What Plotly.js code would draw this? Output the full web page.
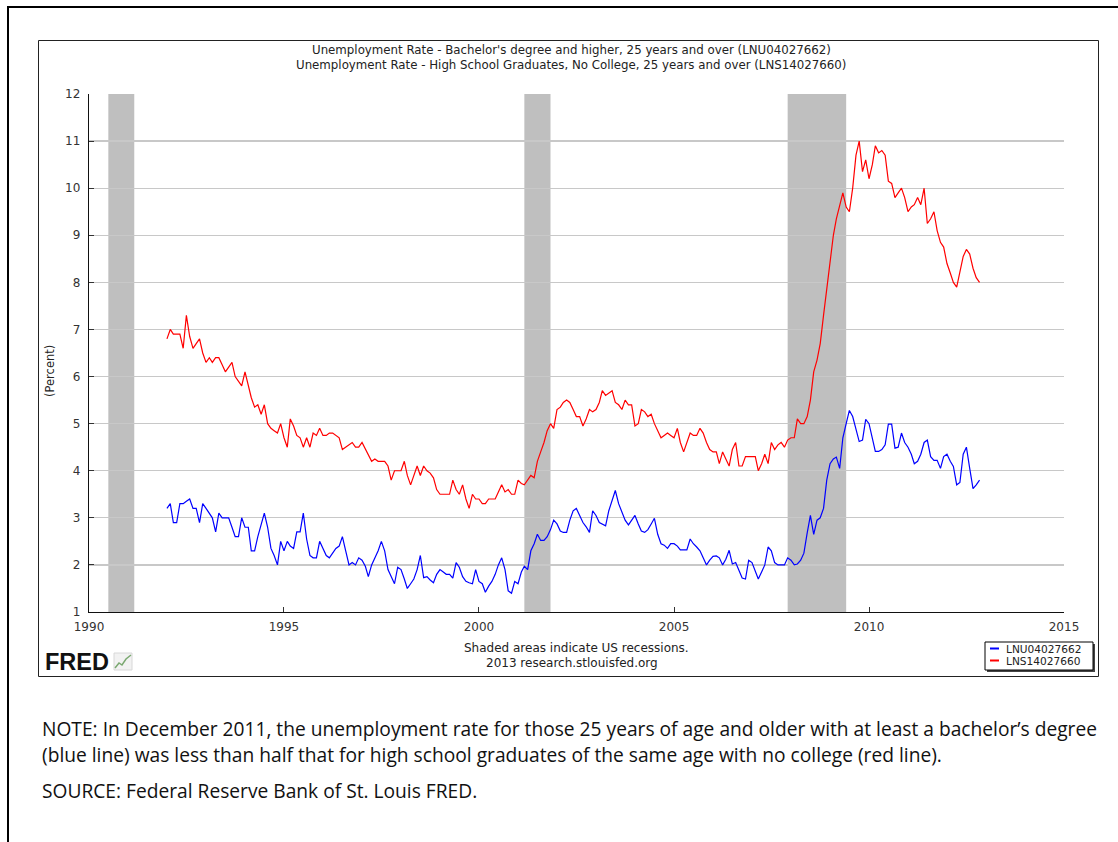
<!DOCTYPE html>
<html><head><meta charset="utf-8">
<script src="https://cdn.plot.ly/plotly-3.0.1.min.js"></script>
<style>html,body{margin:0;padding:0;background:#fff;}#chart{width:1118px;height:842px;}</style>
</head><body><div id="chart"></div>
<script>
// Monthly data, starting January 1992
const startYear = 1992;
const bachelors = [
3.2,3.3,2.9,2.9,3.3,3.3,3.35,3.4,3.2,3.2,2.9,3.3,
3.2,3.1,3.0,2.7,3.1,3.0,3.0,3.0,2.8,2.6,2.6,3.0,
2.8,2.8,2.3,2.3,2.6,2.85,3.1,2.8,2.35,2.2,2.0,2.5,
2.3,2.5,2.4,2.35,2.7,2.7,3.1,2.55,2.2,2.15,2.15,2.5,
2.35,2.2,2.15,2.25,2.35,2.4,2.6,2.3,2.0,2.05,2.0,2.15,
2.1,1.97,1.75,2.0,2.15,2.3,2.5,2.3,1.9,1.75,1.6,1.95,
1.9,1.7,1.5,1.6,1.7,1.9,2.2,1.73,1.75,1.68,1.62,1.8,
1.9,1.85,1.8,1.8,1.72,2.05,1.95,1.75,1.65,1.62,1.6,1.9,
1.65,1.6,1.42,1.55,1.65,1.8,2.0,2.15,1.9,1.45,1.4,1.65,
1.6,1.85,1.97,1.9,2.3,2.45,2.65,2.52,2.52,2.6,2.75,2.95,
2.87,2.72,2.69,2.69,2.95,3.15,3.2,3.05,2.9,2.81,2.69,3.15,
3.05,2.9,2.87,2.83,3.15,3.35,3.58,3.3,3.1,2.95,2.85,2.95,
3.05,2.87,2.72,2.69,2.75,2.87,2.99,2.65,2.45,2.42,2.35,2.45,
2.45,2.4,2.32,2.32,2.32,2.55,2.45,2.38,2.3,2.15,2.0,2.1,
2.18,2.19,2.15,2.0,2.12,2.31,2.02,2.05,1.9,1.72,1.7,2.1,
2.05,1.85,1.7,1.85,2.0,2.38,2.3,2.05,2.0,2.0,2.0,2.15,
2.1,2.0,2.02,2.1,2.25,2.68,3.05,2.65,2.95,3.0,3.2,3.8,
4.15,4.25,4.29,4.05,4.7,5.0,5.28,5.15,4.9,4.62,4.65,5.09,
5.0,4.7,4.41,4.41,4.45,4.55,4.99,4.99,4.48,4.5,4.8,4.6,
4.5,4.35,4.15,4.2,4.35,4.6,4.65,4.3,4.22,4.22,4.05,4.3,
4.35,4.2,4.09,3.7,3.75,4.35,4.5,4.05,3.62,3.7,3.8
];
const highSchool = [
6.8,7.0,6.9,6.9,6.9,6.6,7.3,6.85,6.6,6.7,6.8,6.5,
6.3,6.4,6.3,6.4,6.4,6.25,6.1,6.2,6.3,6.0,5.9,5.8,
6.1,5.8,5.55,5.35,5.4,5.2,5.4,5.0,4.9,4.85,4.8,5.0,
4.7,4.5,5.1,4.95,4.75,4.7,4.5,4.7,4.5,4.8,4.75,4.9,
4.75,4.75,4.8,4.8,4.75,4.7,4.45,4.5,4.55,4.6,4.5,4.5,
4.6,4.45,4.35,4.2,4.25,4.2,4.2,4.2,4.1,3.8,4.0,4.0,
4.0,4.2,3.9,3.7,3.9,4.1,3.9,4.1,4.0,3.95,3.85,3.6,
3.5,3.5,3.5,3.5,3.8,3.6,3.5,3.7,3.4,3.2,3.5,3.4,
3.4,3.3,3.3,3.4,3.4,3.4,3.55,3.7,3.55,3.6,3.5,3.5,
3.8,3.73,3.7,3.8,3.9,3.85,4.2,4.4,4.6,4.85,5.0,4.9,
5.3,5.35,5.45,5.5,5.45,5.3,5.15,5.15,4.95,5.1,5.3,5.25,
5.3,5.45,5.7,5.6,5.65,5.7,5.45,5.4,5.3,5.5,5.4,5.4,
4.95,5.0,5.3,5.25,5.15,5.2,5.0,4.85,4.7,4.75,4.8,4.75,
4.7,4.9,4.6,4.4,4.6,4.8,4.75,4.75,4.9,4.8,4.6,4.45,
4.4,4.4,4.15,4.4,4.25,4.1,4.45,4.6,4.1,4.1,4.3,4.3,
4.3,4.3,4.0,4.15,4.35,4.15,4.6,4.45,4.55,4.6,4.5,4.65,
4.7,4.7,5.1,5.0,5.0,5.15,5.5,6.1,6.35,6.7,7.3,7.9,
8.5,9.0,9.35,9.65,9.9,9.6,9.5,10.0,10.7,11.0,10.35,10.6,
10.2,10.5,10.9,10.75,10.8,10.7,10.15,10.1,9.8,9.9,10.0,9.8,
9.5,9.6,9.65,9.8,9.65,10.0,9.25,9.35,9.5,9.1,8.85,8.75,
8.4,8.2,8.0,7.9,8.25,8.55,8.7,8.6,8.3,8.1,8.0
];
const seriesNames = ['LNU04027662','LNS14027660'];
const seriesColors = ['#0000ff','#ff0000'];
const recessionStarts = ['1990-07-01','2001-03-01','2007-12-01'];
const recessionEnds   = ['1991-03-01','2001-11-01','2009-06-01'];
const xTickYears = [1990,1995,2000,2005,2010,2015];
const yTicks = [1,2,3,4,5,6,7,8,9,10,11,12];
const titleLines = [
  "Unemployment Rate - Bachelor's degree and higher, 25 years and over (LNU04027662)",
  "Unemployment Rate - High School Graduates, No College, 25 years and over (LNS14027660)"
];
const yTitle = '(Percent)';
const footLines = ['Shaded areas indicate US recessions.','2013 research.stlouisfed.org'];
const noteLines = [
  'NOTE: In December 2011, the unemployment rate for those 25 years of age and older with at least a bachelor\u2019s degree',
  '(blue line) was less than half that for high school graduates of the same age with no college (red line).'
];
const sourceLine = 'SOURCE: Federal Reserve Bank of St. Louis FRED.';

function monthDates(n){
  const out=[];
  for(let i=0;i<n;i++){
    const y=startYear+Math.floor(i/12), m=(i%12)+1;
    out.push(y+'-'+(m<10?'0':'')+m+'-01');
  }
  return out;
}

// pixel -> paper helpers (plot area: x 89..1064, y 94..612)
const L=89,R=1064,T=94,B=612;
const PX=p=>(p-L)/(R-L);
const PY=p=>(B-p)/(B-T);

const traces=[
  {x:monthDates(bachelors.length), y:bachelors, name:seriesNames[0], type:'scatter', mode:'lines',
   line:{color:seriesColors[0], width:1.2}, hoverinfo:'skip'},
  {x:monthDates(highSchool.length), y:highSchool, name:seriesNames[1], type:'scatter', mode:'lines',
   line:{color:seriesColors[1], width:1.2}, hoverinfo:'skip'}
];

const shapes=[];
for(let i=0;i<recessionStarts.length;i++){
  shapes.push({type:'rect', xref:'x', yref:'paper', x0:recessionStarts[i], x1:recessionEnds[i], y0:0, y1:1,
    fillcolor:'#bfbfbf', line:{width:0}, layer:'between'});
}
// chart frame
shapes.push({type:'rect', xref:'paper', yref:'paper', x0:PX(38.5), x1:PX(1098.5), y0:PY(676.5), y1:PY(40.5),
  line:{color:'#222', width:1}, fillcolor:'rgba(0,0,0,0)', layer:'above'});
// outer page borders
shapes.push({type:'line', xref:'paper', yref:'paper', x0:PX(7), x1:PX(1118), y0:PY(7), y1:PY(7), line:{color:'#000', width:2}});
shapes.push({type:'line', xref:'paper', yref:'paper', x0:PX(8), x1:PX(8), y0:PY(6), y1:PY(842), line:{color:'#000', width:2}});
// legend box (with shadow)
shapes.push({type:'rect', xref:'paper', yref:'paper', x0:PX(987), x1:PX(1095), y0:PY(672), y1:PY(644),
  line:{width:0}, fillcolor:'#444'});
shapes.push({type:'rect', xref:'paper', yref:'paper', x0:PX(985), x1:PX(1093), y0:PY(670), y1:PY(642),
  line:{color:'#000', width:1}, fillcolor:'#fff'});
for(let i=0;i<2;i++){
  const yy=648.5+i*12;
  shapes.push({type:'line', xref:'paper', yref:'paper', x0:PX(990), x1:PX(999), y0:PY(yy), y1:PY(yy),
    line:{color:seriesColors[i], width:2}});
}
// small FRED chart icon
shapes.push({type:'rect', xref:'paper', yref:'paper', x0:PX(114), x1:PX(132), y0:PY(670), y1:PY(653),
  line:{color:'#d8d8d8', width:1}, fillcolor:'#f2f2f2'});
shapes.push({type:'path', xref:'paper', yref:'paper',
  path:'M '+PX(115)+' '+PY(668)+' L '+PX(119)+' '+PY(663)+' L '+PX(122)+' '+PY(665)+' L '+PX(126)+' '+PY(659)+' L '+PX(131)+' '+PY(655),
  line:{color:'#7aa870', width:1.5}});

const annotations=[];
const fam='DejaVu Sans, Verdana, sans-serif';
const tf={family:fam, size:11.8, color:'#222'};
annotations.push({xref:'paper', yref:'paper', x:PX(571), y:PY(50), text:titleLines[0], showarrow:false, font:tf, xanchor:'center', yanchor:'middle'});
annotations.push({xref:'paper', yref:'paper', x:PX(571), y:PY(65), text:titleLines[1], showarrow:false, font:tf, xanchor:'center', yanchor:'middle'});
annotations.push({xref:'paper', yref:'paper', x:PX(50), y:PY(371), text:yTitle, showarrow:false, textangle:-90, font:{family:fam, size:11.5, color:'#222'}, xanchor:'center', yanchor:'middle'});
const ff={family:fam, size:12, color:'#222'};
annotations.push({xref:'paper', yref:'paper', x:PX(576), y:PY(648), text:footLines[0], showarrow:false, font:ff, xanchor:'center', yanchor:'middle'});
annotations.push({xref:'paper', yref:'paper', x:PX(572), y:PY(663), text:footLines[1], showarrow:false, font:ff, xanchor:'center', yanchor:'middle'});
for(let i=0;i<2;i++){
  annotations.push({xref:'paper', yref:'paper', x:PX(1004), y:PY(648.5+i*12), text:seriesNames[i], showarrow:false,
    font:{family:fam, size:10.6, color:'#222'}, xanchor:'left', yanchor:'middle'});
}
annotations.push({xref:'paper', yref:'paper', x:PX(43), y:PY(662), text:'<b>FRED</b>', showarrow:false,
  font:{family:'Liberation Sans, Arial, sans-serif', size:23.5, color:'#111'}, xanchor:'left', yanchor:'middle'});
const nf={family:'Open Sans, Noto Sans, sans-serif', size:19.2, color:'#111'};
annotations.push({xref:'paper', yref:'paper', x:PX(40), y:PY(728), text:noteLines[0], showarrow:false, font:nf, xanchor:'left', yanchor:'middle'});
annotations.push({xref:'paper', yref:'paper', x:PX(40), y:PY(754), text:noteLines[1], showarrow:false, font:nf, xanchor:'left', yanchor:'middle'});
annotations.push({xref:'paper', yref:'paper', x:PX(40), y:PY(791), text:sourceLine, showarrow:false, font:nf, xanchor:'left', yanchor:'middle'});

const layout={
  width:1118, height:842,
  margin:{l:L, r:1118-R, t:T, b:842-B, pad:0},
  paper_bgcolor:'#fff', plot_bgcolor:'#fff',
  showlegend:false,
  xaxis:{type:'date', range:['1990-01-01','2015-01-01'],
    tickvals:xTickYears.map(y=>y+'-01-01'), ticktext:xTickYears.map(String),
    showgrid:false, zeroline:false, showline:true, linecolor:'#111', linewidth:1.3,
    ticks:'inside', ticklen:5, tickcolor:'#333', tickfont:{family:fam, size:12, color:'#333'},
    ticklabelstandoff:3, fixedrange:true},
  yaxis:{range:[1,12], tickvals:yTicks, ticktext:yTicks.map(String),
    showgrid:true, gridcolor:'#c8c8c8', gridwidth:1.2, zeroline:false,
    showline:true, linecolor:'#111', linewidth:1.3,
    ticks:'inside', ticklen:5, tickcolor:'#333', tickfont:{family:fam, size:12, color:'#333'},
    ticklabelstandoff:5, fixedrange:true},
  shapes:shapes,
  annotations:annotations
};
Plotly.newPlot('chart', traces, layout, {displayModeBar:false, staticPlot:true});
</script>
</body></html>
